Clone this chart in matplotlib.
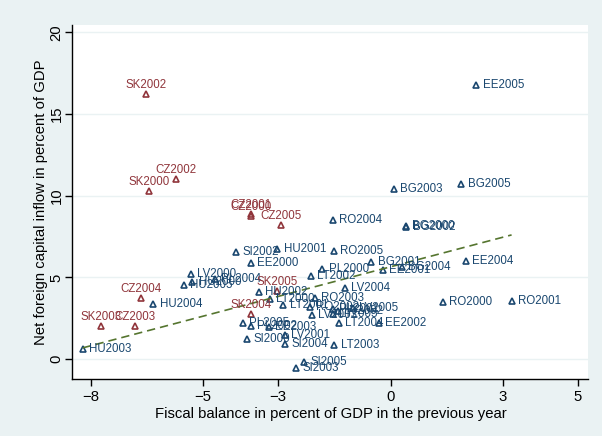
import numpy as np
import matplotlib
matplotlib.use("Agg")
import matplotlib.pyplot as plt

plt.rcParams.update({
    "font.family": ["Liberation Sans", "DejaVu Sans"],
    "axes.linewidth": 1.0,
    "xtick.labelsize": 10.7,
    "ytick.labelsize": 10.7,
    "axes.labelsize": 10.7,
})

# Central and eastern European countries, 2000-2005
blue_labels = ["EE2005", "BG2003", "BG2005", "RO2004", "BG2000", "BG2002", "RO2005",
               "SI2002", "HU2001", "EE2000", "BG2001", "EE2004", "PL2000", "EE2001",
               "BG2004", "LT2002", "LV2000", "HU2000", "HU2005", "PL2004", "LV2004",
               "HU2002", "LT2000", "RO2003", "RO2000", "RO2001", "HU2004", "LT2001",
               "RO2002", "PL2001", "LV2005", "LV2002", "LT2005", "LV2003", "PL2005",
               "LT2004", "EE2002", "PL2002", "EE2003", "LV2001", "SI2000", "SI2004",
               "LT2003", "HU2003", "SI2005", "SI2003"]
blue_x = [2.29, 0.09, 1.89, -1.53, 0.41, 0.42, -1.51,
          -4.12, -3.02, -3.73, -0.51, 2.00, -1.82, -0.21,
          0.30, -2.13, -5.33, -5.29, -5.51, -4.69, -1.22,
          -3.52, -3.22, -2.02, 1.40, 3.23, -6.33, -2.86,
          -2.15, -1.54, -1.01, -1.40, -1.54, -2.11, -3.95,
          -1.37, -0.31, -3.73, -3.25, -2.82, -3.83, -2.82,
          -1.50, -8.22, -2.30, -2.53]
blue_y = [16.78, 10.41, 10.72, 8.51, 8.12, 8.08, 6.63,
          6.57, 6.72, 5.90, 5.92, 6.02, 5.51, 5.45,
          5.63, 5.10, 5.19, 4.73, 4.53, 4.88, 4.37,
          4.12, 3.67, 3.72, 3.51, 3.55, 3.37, 3.31,
          3.17, 3.06, 3.12, 2.94, 2.76, 2.69, 2.22,
          2.22, 2.22, 2.02, 1.99, 1.47, 1.20, 0.92,
          0.86, 0.59, -0.17, -0.57]

red_labels = ["SK2002", "CZ2002", "SK2000", "CZ2001", "CZ2000", "CZ2005",
              "SK2005", "SK2004", "CZ2004", "SK2003", "CZ2003"]
red_x = [-6.53, -5.73, -6.44, -3.73, -3.73, -2.93, -3.02, -3.73, -6.66, -7.73, -6.82]
red_y = [16.21, 11.04, 10.31, 8.90, 8.74, 8.19, 4.16, 2.76, 3.71, 2.02, 2.02]

xticks = [-8, -5, -3, 0, 3, 5]
yticks = [0, 5, 10, 15, 20]

navy = "#1a476f"
maroon = "#90353b"
green = "#55752f"
bg = "#eaf2f3"

fig = plt.figure(figsize=(6.02, 4.36), dpi=100, facecolor=bg)
ax = fig.add_axes([0.1204, 0.1307, 0.857, 0.812])
ax.set_facecolor("white")

for y in yticks:
    ax.axhline(y, color=bg, lw=1.0, zorder=0)

ax.plot(blue_x, blue_y, ls="none", marker="^", ms=5, mfc="none", mec=navy, mew=1.2)
ax.plot(red_x, red_y, ls="none", marker="^", ms=5, mfc="none", mec=maroon, mew=1.2)

for lab, x, y in zip(blue_labels, blue_x, blue_y):
    ax.annotate(lab, (x, y), xytext=(4.5, 0), textcoords="offset points",
                ha="left", va="center", fontsize=8.3, color=navy)
for lab, x, y in zip(red_labels, red_x, red_y):
    ax.annotate(lab, (x, y), xytext=(0, 6.5), textcoords="offset points",
                ha="center", va="center", fontsize=8.3, color=maroon)

# linear fit through the non-CZ/SK observations
bx = np.array(blue_x)
by = np.array(blue_y)
slope, intercept = np.polyfit(bx, by, 1)
fx = np.array([bx.min(), bx.max()])
ax.plot(fx, intercept + slope * fx, ls=(0, (5, 3)), color=green, lw=1.2)

ax.set_xlim(-8.49, 5.28)
ax.set_ylim(-1.22, 20.45)
ax.set_xticks(xticks)
ax.set_yticks(yticks)
ax.set_yticklabels([str(t) for t in yticks], rotation=90, va="center")
ax.tick_params(direction="out", length=5, width=1)
ax.tick_params(axis="x", pad=3)
ax.tick_params(axis="y", pad=1.5)

for s in ["top", "right"]:
    ax.spines[s].set_visible(False)

ax.set_xlabel("Fiscal balance in percent of GDP in the previous year", labelpad=2)
ax.set_ylabel("Net foreign capital inflow in percent of GDP", labelpad=1)

fig.savefig("out.png", dpi=100, facecolor=bg)
